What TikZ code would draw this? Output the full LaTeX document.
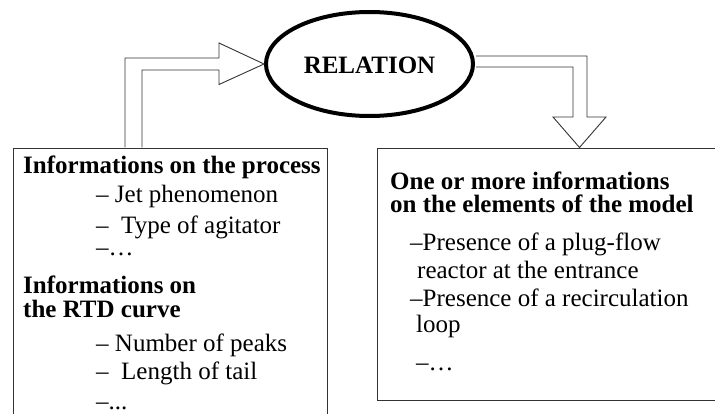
\documentclass[tikz,border=0pt]{standalone}
\usepackage{fontspec}
\setmainfont{Liberation Serif}
\usetikzlibrary{shapes.geometric}
\definecolor{lineg}{HTML}{333333}
\tikzset{
  box/.style={draw=lineg, line width=0.9pt, anchor=north west, inner sep=0pt},
  blockarrow/.style={draw=lineg, line width=0.9pt, fill=white, line join=miter},
  relnode/.style={ellipse, draw=black, line width=4pt, minimum width=207pt, minimum height=104pt, inner sep=0pt},
  txt/.style={anchor=base west, inner sep=0pt, font=\fontsize{25}{25}\selectfont},
  btxt/.style={txt, font=\fontsize{25}{25}\selectfont\bfseries}
}
\begin{document}
\begin{tikzpicture}[x=1pt, y=-1pt]
\useasboundingbox (0,0) rectangle (715,414);
\clip (0,0) rectangle (715,414);
% boxes
\node[box, minimum width=314pt, minimum height=290pt] (lbox) at (13,148) {};
\node[box, minimum width=360pt, minimum height=252pt] (rbox) at (377,148) {};
% ellipse
\node[relnode] (rel) at (369.5,64) {};
\node[btxt, anchor=base] (reltxt) at (rel.center |- 0,74) {RELATION};
% arrows
\coordinate (a1s) at (125,147.5);
\coordinate (a1e) at (142,147.5);
\draw[blockarrow] (a1s) -- (125,58) -- (219,58) -- (219,43) -- (rel.west) -- (219,84.5) -- (219,70) -- (142,70) -- (a1e);
\coordinate (a2s) at (476,56);
\coordinate (a2e) at (476,67);
\coordinate (a2t) at (579.5,147.5);
\draw[blockarrow] (a2s) -- (587,56) -- (587,117) -- (606,117) -- (a2t) -- (553,117) -- (573,117) -- (573,67) -- (a2e);
% left box text
\node[btxt] (l1) at (23,174) {Informations on the process};
\node[txt] (l2) at (96,203) {– Jet phenomenon};
\node[txt] (l3) at (96,234) {–\ \ Type of agitator};
\node[txt] (l4) at (96,255) {–…};
\node[btxt] (l5) at (23,293) {Informations on};
\node[btxt] (l6) at (23,317) {the RTD curve};
\node[txt] (l7) at (96,351) {– Number of peaks};
\node[txt] (l8) at (96,379) {–\ \ Length of tail};
\node[txt] (l9) at (96,409) {–...};
% right box text
\node[btxt] (r1) at (390,190) {One or more informations};
\node[btxt] (r2) at (390,213) {on the elements of the model};
\node[txt] (r3) at (410,251) {–Presence of a plug-flow};
\node[txt] (r4) at (417,278) {reactor at the entrance};
\node[txt] (r5) at (410,306) {–Presence of a recirculation};
\node[txt] (r6) at (416,332) {loop};
\node[txt] (r7) at (416,370) {–…};
\end{tikzpicture}
\end{document}
